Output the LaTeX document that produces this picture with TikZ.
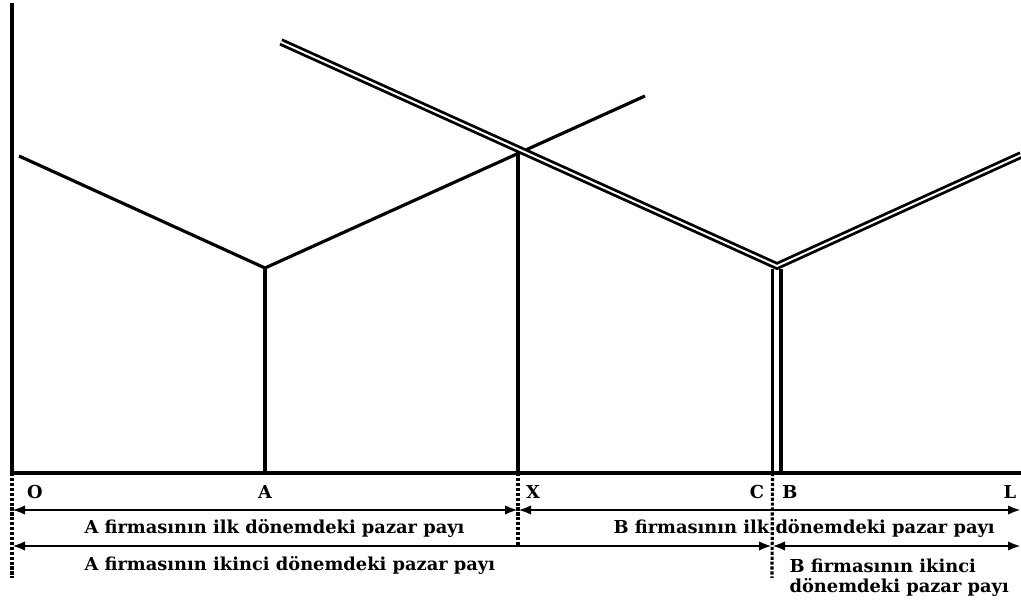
\documentclass[tikz,border=0pt]{standalone}
\usepackage{fontspec}
\setmainfont{DejaVu Serif}
\usepackage{tikz}
\usetikzlibrary{arrows.meta}
\usetikzlibrary{positioning}

\begin{document}
\begin{tikzpicture}[x=0.2mm,y=-0.2mm]
    \tikzstyle{every node}=[font=\bfseries\fontsize{10.15}{11.6}\selectfont,inner sep=0pt]
    \tikzstyle{every path}=[line width=1.8pt]
    \tikzstyle{twin}=[double,line width=1.6pt,double distance=1.1pt]
    \tikzstyle{share}=[{Latex[length=2.6mm,width=1.9mm]}-{Latex[length=2.6mm,width=1.9mm]},line width=1.5pt]
    \tikzstyle{cut}=[densely dotted,line width=1.8pt]
    \tikzstyle{lbl}=[anchor=west]

    \path[use as bounding box] (0,0) rectangle (1021,603);

    % axes
    \coordinate (top) at (12,3);
    \coordinate (O) at (12,473);
    \coordinate (L) at (1021,473);
    \draw (top) -- (O) -- (L);

    % firm A
    \coordinate (aleft) at (19,156);
    \coordinate (avert) at (265,268);
    \coordinate (aright) at (645,96);
    \coordinate (A) at (265,473);
    \draw (aleft) -- (avert) -- (aright);
    \draw (avert) -- (A);

    % firm B
    \coordinate (bleft) at (281,42);
    \coordinate (bvert) at (777,266);
    \coordinate (bright) at (1021,155);
    \draw[twin] (bleft) -- (bvert) -- (bright);
    \coordinate (bv1) at (772.5,269);
    \coordinate (bv2) at (781,269);
    \coordinate (C) at (772.5,473);
    \coordinate (B) at (781,473);
    \draw (bv1) -- (C);
    \draw (bv2) -- (B);

    % X
    \coordinate (xtop) at (518,151);
    \coordinate (X) at (518,473);
    \draw (xtop) -- (X);

    % letters
    \node (lo) at (35,492) {O};
    \node (la) at (265,492) {A};
    \node (lx) at (533,492) {X};
    \node (lc) at (757,492) {C};
    \node (lb) at (790,492) {B};
    \node (ll) at (1010,492) {L};

    % dotted cuts
    \coordinate (ocut) at (12,578);
    \coordinate (xcut) at (518,545);
    \coordinate (ccut) at (772,578);
    \draw[cut] (O) -- (ocut);
    \draw[cut] (X) -- (xcut);
    \draw[cut] (C) -- (ccut);

    % market shares
    \coordinate (r1o) at (12,510);
    \coordinate (r1x) at (518,510);
    \coordinate (r1l) at (1021,510);
    \coordinate (r2o) at (12,546);
    \coordinate (r2c) at (772,546);
    \coordinate (r2l) at (1021,546);
    \draw[share] (r1o) -- (r1x);
    \draw[share] (r1x) -- (r1l);
    \draw[share] (r2o) -- (r2c);
    \draw[share] (r2c) -- (r2l);

    \node[lbl] (a1) at (83,528) {A firmasının ilk dönemdeki pazar payı};
    \node[lbl] (b1) at (612,528) {B firmasının ilk dönemdeki pazar payı};
    \node[lbl] (a2) at (83,565) {A firmasının ikinci dönemdeki pazar payı};
    \node[lbl,align=left] (b2) at (788,578) {B firmasının ikinci\\dönemdeki pazar payı};

\end{tikzpicture}
\end{document}
